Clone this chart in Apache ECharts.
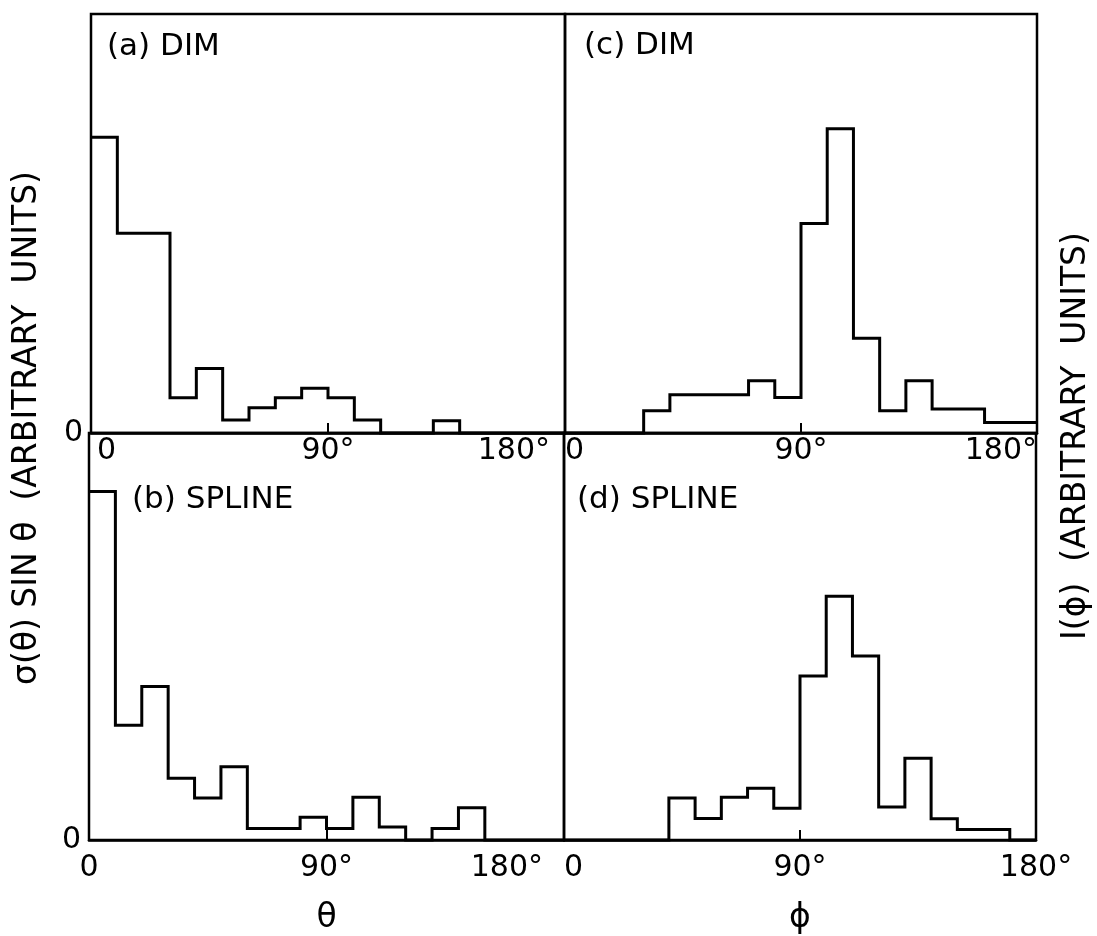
<!DOCTYPE html>
<html>
<head>
<meta charset="utf-8">
<script src="https://cdn.jsdelivr.net/npm/echarts@6/dist/echarts.min.js"></script>
<style>
html,body{margin:0;padding:0;background:#fff;}
#chart{width:1097px;height:936px;}
</style>
</head>
<body>
<div id="chart"></div>
<script>
// ---- data ----
const binEdges = [0,10,20,30,40,50,60,70,80,90,100,110,120,130,140,150,160,170];
const dimTheta    = [70.6,47.7,47.7,8.4,15.4,3.1,6.0,8.4,10.7,8.4,3.1,0,0,2.9,0,0,0,0];
const splineTheta = [85.6,28.2,37.7,15.2,10.3,18.0,2.8,2.8,5.6,2.8,10.5,3.2,0,2.8,7.9,0,0,0];
const dimPhi      = [0,0,0,5.3,9.1,9.1,9.1,12.5,8.5,50.0,72.6,22.6,5.3,12.5,5.7,5.7,2.5,2.5];
const splinePhi   = [0,0,0,0,10.3,5.3,10.5,12.7,7.8,40.3,59.9,45.2,8.1,20.1,5.2,2.6,2.6,0];
const xTickValues = [0,90,180];
const xTickLabels = ['0','90°','180°'];
const panelTitles = ['(a) DIM','(b) SPLINE','(c) DIM','(d) SPLINE'];
const leftAxisTitle = 'σ(θ) SIN θ  (ARBITRARY  UNITS)';
const rightAxisTitle = 'I(ϕ)  (ARBITRARY  UNITS)';
const xNames = ['θ','ϕ'];

const FONT = 'DejaVu Sans';
function steps(vals){
  const pts = binEdges.map((e,i)=>[e, vals[i]]);
  pts.push([180, vals[vals.length-1]]);
  return pts;
}
function xLabel(prefixMin, suffixMax){
  return function(v){
    const i = xTickValues.indexOf(v);
    if (i < 0) return '';
    if (i === 0) return prefixMin + xTickLabels[i];
    return i === 2 ? xTickLabels[i] + suffixMax : xTickLabels[i];
  };
}

const grids = [
  {left:91, top:14, width:474, height:419},   // a
  {left:89, top:433, width:475, height:419},  // b
  {left:565, top:14, width:472, height:419},  // c
  {left:564, top:433, width:472, height:419}  // d
].map(g => Object.assign({show:true, borderColor:'#000', borderWidth:2.5, backgroundColor:'transparent'}, g));

const xCfg = [
  {margin:3, alignMin:'left', alignMax:'right', prefix:'\u2009', suffix:'\u2002'},
  {margin:13, alignMin:'center', alignMax:'right', prefix:'', suffix:'\u2002\u2009'},
  {margin:3, alignMin:'left', alignMax:'right', prefix:'', suffix:''},
  {margin:13, alignMin:'left', alignMax:'center', prefix:'', suffix:''}
];

const xAxes = xCfg.map((c,i)=>({
  type:'value', gridIndex:i, min:0, max:180, interval:90,
  axisLine:{show:true, lineStyle:{color:'#000', width:2.5}},
  axisTick:{show:true, inside:true, length:10, lineStyle:{color:'#000', width:2}},
  splitLine:{show:false},
  axisLabel:{show:true, color:'#000', fontFamily:FONT, fontSize:30, margin:c.margin,
    alignMinLabel:c.alignMin, alignMaxLabel:c.alignMax, formatter:xLabel(c.prefix, c.suffix)},
  name: i===1 ? xNames[0] : (i===3 ? xNames[1] : ''),
  nameLocation:'middle', nameGap:62,
  nameTextStyle:{color:'#000', fontFamily:FONT, fontSize:33}
}));

const yAxes = [0,1,2,3].map(i=>({
  type:'value', gridIndex:i, min:0, max:100, interval:100,
  axisLine:{show:false}, axisTick:{show:false}, splitLine:{show:false},
  axisLabel:{show: i<2, color:'#000', fontFamily:FONT, fontSize:30, margin:8,
    formatter: v => v===0 ? '0' : ''}
}));

const seriesData = [dimTheta, splineTheta, dimPhi, splinePhi];
const series = seriesData.map((vals,i)=>({
  type:'line', xAxisIndex:i, yAxisIndex:i, step:'end', symbol:'none',
  data: steps(vals), animation:false, clip:false,
  lineStyle:{color:'#000', width:3, join:'miter'}
}));

const titlePos = [[107,47],[132,500],[584,46],[577,500]];
const graphics = panelTitles.map((t,i)=>({
  type:'text', x:titlePos[i][0], y:titlePos[i][1],
  style:{text:t, fill:'#000', font:'31px "'+FONT+'"', textAlign:'left', textVerticalAlign:'middle'}
}));
graphics.push({type:'text', x:27, y:428, rotation:Math.PI/2,
  style:{text:leftAxisTitle, fill:'#000', font:'33px "'+FONT+'"', textAlign:'center', textVerticalAlign:'middle'}});
graphics.push({type:'text', x:1076, y:436, rotation:Math.PI/2,
  style:{text:rightAxisTitle, fill:'#000', font:'33px "'+FONT+'"', textAlign:'center', textVerticalAlign:'middle'}});

const chart = echarts.init(document.getElementById('chart'), null, {renderer:'canvas'});
chart.setOption({
  backgroundColor:'#fff',
  animation:false,
  grid: grids,
  xAxis: xAxes,
  yAxis: yAxes,
  series: series,
  graphic: graphics
});
</script>
</body>
</html>
